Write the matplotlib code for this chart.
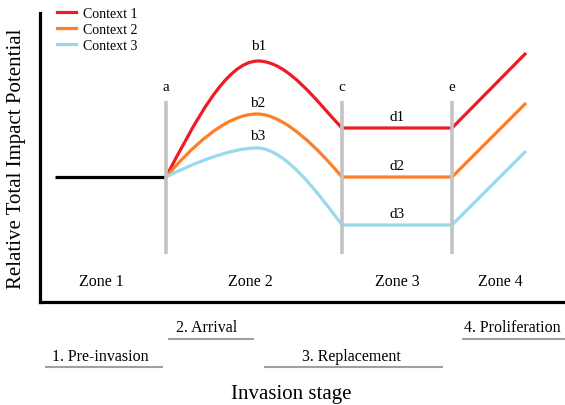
import matplotlib
matplotlib.use("Agg")
import matplotlib.pyplot as plt
from matplotlib.path import Path
from matplotlib.patches import PathPatch

plt.rcParams["font.family"] = ["Liberation Serif", "DejaVu Serif"]

# stage boundaries (x) and baseline impact
boundary_x = [126, 302, 412]
boundary_labels = ["a", "c", "e"]
boundary_ymin = 48
boundary_ymax = 201
start_x = 15
end_x = 486
baseline_y = 125

contexts = ["Context 1", "Context 2", "Context 3"]
colors = ["#ED1C24", "#FF7F27", "#99D9EA"]

# hump between a and c (cubic bezier handles)
rise_ctrl = [(154, 178), (150, 153), (152, 138)]
peak_x = [218, 217, 217]
peak_y = [241, 188, 154]
peak_in_x = [186, 185, 190]
peak_out_x = [248, 245, 245]
fall_ctrl = [(277, 200), (280, 151), (278, 109)]
plateau_y = [174, 125, 77]
final_y = [249, 199, 151]

b_labels = ["b1", "b2", "b3"]
b_label_y = [256, 199, 166]
d_labels = ["d1", "d2", "d3"]
d_label_y = [185, 136, 88]

zones = ["Zone 1", "Zone 2", "Zone 3", "Zone 4"]
zone_x = [61, 210, 357, 460]

stages = ["1. Pre-invasion", "2. Arrival", "3. Replacement", "4. Proliferation"]
stage_x = [60, 167, 311, 472]
stage_row = [1, 0, 1, 0]
stage_span = [(5, 123), (128, 214), (224, 403), (422, 525)]

fig = plt.figure(figsize=(5.65, 4.06), dpi=100)
ax = fig.add_axes([40 / 565, 103 / 406, 525 / 565, 289 / 406])
ax.set_xlim(0, 525)
ax.set_ylim(0, 289)
ax.set_xticks([])
ax.set_yticks([])
for s in ["top", "right"]:
    ax.spines[s].set_visible(False)
for s in ["left", "bottom"]:
    ax.spines[s].set_linewidth(2.3)
    ax.spines[s].set_color("black")

# pre-invasion baseline
ax.plot([start_x, boundary_x[0]], [baseline_y, baseline_y], color="black",
        lw=2.3, solid_capstyle="butt", zorder=2)

handles = []
for i in range(3):
    verts = [
        (boundary_x[0], baseline_y),
        rise_ctrl[i],
        (peak_in_x[i], peak_y[i]),
        (peak_x[i], peak_y[i]),
        (peak_out_x[i], peak_y[i]),
        fall_ctrl[i],
        (boundary_x[1], plateau_y[i]),
        (boundary_x[2], plateau_y[i]),
        (end_x, final_y[i]),
    ]
    codes = [Path.MOVETO] + [Path.CURVE4] * 6 + [Path.LINETO] * 2
    patch = PathPatch(Path(verts, codes), fill=False, edgecolor=colors[i],
                      lw=2.3, capstyle="butt", joinstyle="round", zorder=2)
    ax.add_patch(patch)
    h, = ax.plot([], [], color=colors[i], lw=2.3, label=contexts[i])
    handles.append(h)

    ax.text(peak_x[i] + 1, b_label_y[i], b_labels[i], ha="center", va="center", fontsize=11)
    ax.text(357, d_label_y[i], d_labels[i], ha="center", va="center", fontsize=11)

for bx, lab in zip(boundary_x, boundary_labels):
    ax.plot([bx, bx], [boundary_ymin, boundary_ymax], color="#C3C3C3", lw=2.6,
            solid_capstyle="butt", zorder=3)
    ax.text(bx, 215, lab, ha="center", va="center", fontsize=11)

for zx, z in zip(zone_x, zones):
    ax.text(zx, 21, z, ha="center", va="center", fontsize=11.5)

row_text_y = [-25, -54]
row_line_y = [-37, -65]
for sx, lab, r, span in zip(stage_x, stages, stage_row, stage_span):
    ax.text(sx, row_text_y[r], lab, ha="center", va="center", fontsize=11.5, clip_on=False)
    ax.plot(span, [row_line_y[r]] * 2, color="#A0A0A0", lw=1.5, clip_on=False,
            solid_capstyle="butt")

ax.text(251, -92, "Invasion stage", ha="center", va="center", fontsize=15, clip_on=False)
ax.text(-23, 144, "Relative Total Impact Potential", ha="center", va="center",
        rotation=90, fontsize=15, clip_on=False)

ax.legend(handles=handles, loc="upper left", bbox_to_anchor=(57 / 565, 398 / 406),
          bbox_transform=fig.transFigure, frameon=False, fontsize=10,
          borderpad=0, borderaxespad=0, handlelength=1.4, handletextpad=0.45,
          labelspacing=0.2)

fig.savefig("out.png", dpi=100)
